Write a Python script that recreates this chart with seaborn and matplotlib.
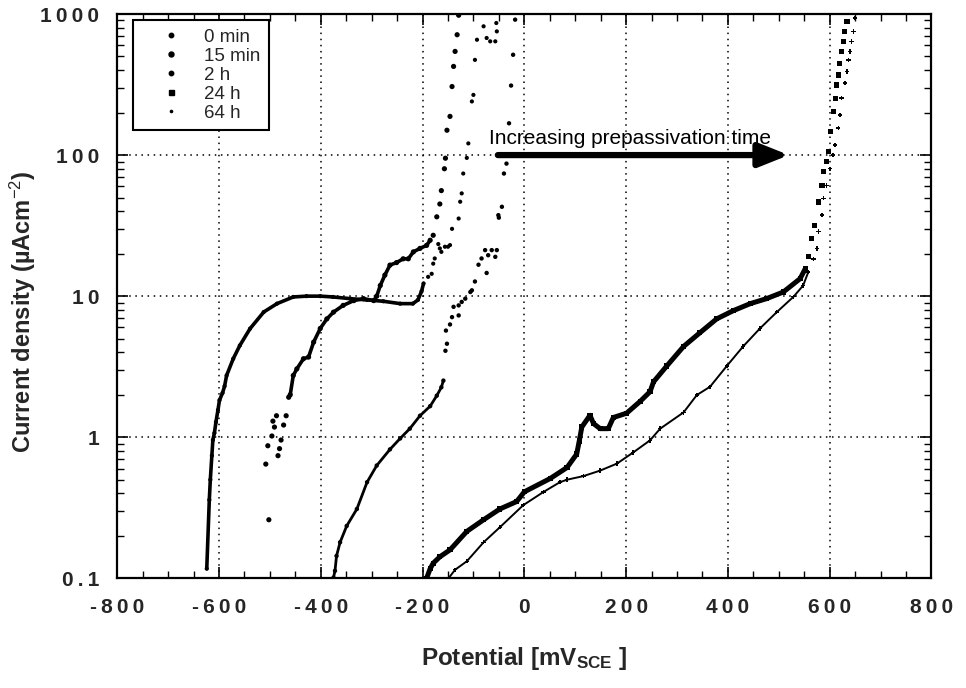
import numpy as np
import pandas as pd
import matplotlib
matplotlib.use("Agg")
import matplotlib.pyplot as plt
from matplotlib.lines import Line2D
import seaborn as sns

# ---------------- data ----------------
mv_0min = [-624, -619, -617, -614, -612, -609, -606, -602, -599, -593, -589, -585, -572, -559,
           -539, -512, -486, -454, -428, -401, -376, -342, -309, -277, -244, -219, -209, -202,
           -198, -189, -182, -179, -176, -169, -166, -163, -156, -150, -146, -142, -129, -126,
           -123, -120, -113, -110, -103, -100, -97, -93, -80, -74, -67, -57, -54, -55]
i_0min = [0.117, 0.36, 0.50, 0.74, 0.955, 1.07, 1.28, 1.56, 1.83, 2.06, 2.3, 2.74, 3.6, 4.47,
          5.88, 7.72, 8.85, 9.87, 10.0, 10.0, 9.87, 9.6, 9.4, 9.2, 8.85, 8.85, 9.4, 10.8,
          12.3, 13.7, 14.4, 17.0, 18.5, 23.4, 21.8, 20.6, 22.4, 22.4, 23.0, 30.0, 35.5, 46.7,
          53.5, 74.0, 95.5, 121, 240, 267, 473, 657, 818, 676, 640, 640, 753, 863]

mv_15min = [-502, -508, -504, -496, -494, -491, -487, -484, -481, -478, -473, -468, -463, -460,
            -454, -447, -434, -424, -414, -401, -388, -375, -356, -335, -316, -296, -290, -283,
            -274, -264, -251, -238, -228, -218, -205, -192, -185, -179, -172, -166, -163, -157,
            -155, -152, -146, -142, -139, -136, -132, -129]
i_15min = [0.26, 0.645, 0.87, 1.02, 1.3, 1.18, 1.42, 0.74, 0.83, 0.955, 1.22, 1.42, 1.92, 2.0,
           2.74, 3.05, 3.6, 3.7, 4.72, 5.9, 6.9, 7.7, 8.6, 9.3, 9.6, 9.3, 10.0, 11.9,
           14.1, 16.6, 17.3, 18.4, 18.4, 20.6, 21.8, 22.9, 24.9, 27.0, 36.5, 45.0, 56.0, 80.0,
           95.0, 150, 188, 306, 425, 543, 713, 980]

mv_2h = [-375, -372, -369, -362, -349, -329, -309, -290, -264, -244, -225, -205, -185, -172,
         -163, -159, -155, -152, -154, -146, -142, -139, -129, -129, -123, -116, -106, -103,
         -97, -90, -84, -77, -74, -71, -64, -57, -54, -51, -50, -44, -40, -35, -30, -26,
         -22, -18]
i_2h = [0.101, 0.113, 0.144, 0.18, 0.235, 0.31, 0.48, 0.63, 0.82, 0.98, 1.15, 1.42, 1.66, 1.97,
        2.26, 2.52, 4.1, 4.6, 5.7, 6.3, 7.1, 8.4, 7.3, 8.6, 9.1, 9.6, 10.7, 11.0,
        12.7, 16.7, 18.5, 21.2, 14.6, 19.5, 21.2, 19.0, 21.2, 37.5, 36.0, 43.0, 74.0, 87.0, 168, 311,
        514, 912]

mv_24h = [-192, -185, -179, -166, -146, -113, -80, -48, -15, 0, 51, 84, 103, 108, 113, 129,
          136, 149, 165, 175, 201, 228, 247, 254, 280, 313, 345, 378, 411, 444, 476, 509,
          542, 552, 558, 565, 571, 578, 585, 588, 594, 597, 601, 607, 611, 614, 617, 620,
          623, 627, 630, 634]
i_24h = [0.10, 0.117, 0.128, 0.142, 0.159, 0.215, 0.26, 0.31, 0.35, 0.41, 0.51, 0.61, 0.76, 0.94,
         1.18, 1.43, 1.25, 1.15, 1.15, 1.38, 1.48, 1.8, 2.1, 2.47, 3.2, 4.4, 5.5, 6.9, 7.9,
         8.85, 9.6, 10.7, 13.3, 15.6, 19.2, 25.7, 31.7, 46.5, 61.0, 76.0, 90.0, 106, 147, 204,
         253, 314, 370, 448, 543, 640, 753, 887]

mv_64h = [-149, -136, -113, -80, -48, -2, 38, 70, 84, 116, 149, 182, 214, 247, 267, 313, 339,
          365, 398, 430, 463, 496, 529, 548, 558, 568, 575, 578, 585, 588, 594, 601, 607, 611,
          617, 620, 623, 630, 634, 637, 640, 643, 647, 650]
i_64h = [0.10, 0.115, 0.132, 0.18, 0.23, 0.33, 0.41, 0.48, 0.50, 0.53, 0.58, 0.65, 0.78, 0.95,
         1.15, 1.5, 1.99, 2.28, 3.2, 4.4, 5.9, 7.7, 9.9, 11.9, 14.8, 18.4, 21.7, 28.8, 37.5,
         49.4, 61.0, 80.0, 100, 118, 155, 193, 253, 324, 392, 473, 543, 640, 753, 936]

labels = ["0 min", "15 min", "2 h", "24 h", "64 h"]
x_ticks = [-800, -600, -400, -200, 0, 200, 400, 600, 800]
x_ticklabels = ["-800", "-600", "-400", "-200", "0", "200", "400", "600", "800"]
y_ticks = [0.1, 1, 10, 100, 1000]
y_ticklabels = ["0.1", "1", "10", "100", "1000"]
arrow_text = "Increasing prepassivation time"

# ---------------- figure ----------------
sns.set_theme(style="ticks")
plt.rcParams["font.family"] = ["Liberation Sans", "DejaVu Sans"]
plt.rcParams["mathtext.fontset"] = "custom"
plt.rcParams["mathtext.rm"] = "Liberation Sans"
plt.rcParams["mathtext.bf"] = "Liberation Sans:bold"
plt.rcParams["mathtext.it"] = "Liberation Sans:italic"

fig = plt.figure(figsize=(9.66, 6.88), dpi=100)
ax = fig.add_axes([117.2 / 966, 1 - 578.3 / 688, (931.4 - 117.2) / 966, (578.3 - 14) / 688])
ax.set_yscale("log")
ax.set_xlim(-800, 800)
ax.set_ylim(0.1, 1000)

series = [
    (mv_0min, i_0min, dict(marker="o", s=9), 2.6, lambda d: d["mV"] <= -198),
    (mv_15min, i_15min, dict(marker="o", s=14), 2.6, lambda d: (d["mV"] <= -185) & (d.index >= 12)),
    (mv_2h, i_2h, dict(marker="o", s=10), 2.0, lambda d: d.index <= 15),
    (mv_24h, i_24h, dict(marker="s", s=14), 3.6, lambda d: d["mV"] <= 552),
    (mv_64h, i_64h, dict(marker="P", s=10), 1.4, lambda d: d["mV"] <= 558),
]

for mv, cur, mk, lw, dense in series:
    df = pd.DataFrame({"mV": mv, "I": cur})
    seg = df[dense(df)]
    sns.lineplot(data=seg, x="mV", y="I", sort=False, estimator=None, color="black",
                 lw=lw, ax=ax, legend=False)
    sns.scatterplot(data=df, x="mV", y="I", color="black", edgecolor="none", linewidth=0,
                    ax=ax, legend=False, **mk)

# grid
ax.grid(True, which="major", color="black", linestyle=(0, (1, 3)), linewidth=1.1)
ax.set_axisbelow(True)

# ticks (labels rendered with the wide letter spacing of the original)
spaced = lambda s: "\u2009".join(s)
ax.set_xticks(x_ticks)
ax.set_xticklabels([spaced(s) for s in x_ticklabels])
ax.xaxis.set_minor_locator(matplotlib.ticker.MultipleLocator(50))
ax.set_yticks(y_ticks)
ax.set_yticklabels([spaced(s) for s in y_ticklabels])
ax.yaxis.set_minor_locator(matplotlib.ticker.LogLocator(base=10, subs=np.arange(2, 10)))
ax.yaxis.set_minor_formatter(matplotlib.ticker.NullFormatter())
ax.tick_params(which="both", direction="in", top=True, right=True, color="black")
ax.tick_params(which="major", length=8, width=1.2, labelsize=15)
ax.tick_params(axis="x", which="major", pad=14)
ax.tick_params(axis="y", which="major", pad=13)
ax.tick_params(which="minor", length=5, width=1.0)
for lab in ax.get_xticklabels() + ax.get_yticklabels():
    lab.set_fontweight("bold")
for sp in ax.spines.values():
    sp.set_color("black")
    sp.set_linewidth(1.6)

ax.set_xlabel("Potential [mV$_{\\mathbf{SCE}}$ ]", fontsize=17.5, fontweight="bold", labelpad=20)
ax.set_ylabel("Current density (µAcm$^{-2}$)", fontsize=17, fontweight="bold")
ax.yaxis.set_label_coords(-0.097, 0.472)

# arrow + text
ax.annotate("", xy=(520, 100), xytext=(-52, 100),
            arrowprops=dict(arrowstyle="-|>,head_length=1.5,head_width=0.6", color="black",
                            lw=4.5, shrinkA=0, shrinkB=0))
ax.text(-70, 112, arrow_text, fontsize=15, ha="left", va="bottom", color="black")

# legend
handles = [
    Line2D([], [], ls="", marker="o", color="black", markersize=3.2),
    Line2D([], [], ls="", marker="o", color="black", markersize=3.6),
    Line2D([], [], ls="", marker="o", color="black", markersize=3.2),
    Line2D([], [], ls="", marker="s", color="black", markersize=3.6),
    Line2D([], [], ls="", marker="o", color="black", markersize=1.6),
]
leg = ax.legend(handles, labels, loc="upper left", bbox_to_anchor=(0.0197, 0.989),
                fontsize=13.5, frameon=True, fancybox=False, edgecolor="black",
                framealpha=1, borderpad=0.45, labelspacing=0.1, handletextpad=0.2,
                handlelength=3.15, borderaxespad=0)
leg.get_frame().set_linewidth(1.5)

fig.savefig("out.png", dpi=100)
